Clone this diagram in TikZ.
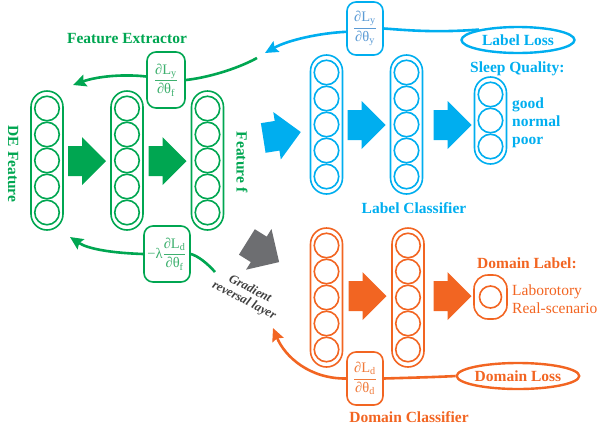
\documentclass[tikz,border=0pt]{standalone}
\usepackage{fontspec}
\setmainfont{Liberation Serif}
\usetikzlibrary{arrows.meta,shapes.geometric}
\definecolor{cgreen}{HTML}{00A651}
\definecolor{cblue}{HTML}{00AEEF}
\definecolor{corange}{HTML}{F26522}
\definecolor{cgray}{HTML}{6D6E71}
\definecolor{tgray}{HTML}{404040}
\definecolor{dgreen}{HTML}{3DB06E}
\definecolor{dblue}{HTML}{5B9BD5}
\definecolor{dorange}{HTML}{F07A3A}
\newcommand\mycol[5]{%
  \pgfmathsetmacro\colh{26*#4+9}%
  \node[colbox=#5, minimum height=\colh pt] (#1) at (#2,{#3+\colh/2}) {};
  \foreach \k in {1,...,#4}{\node[neuron=#5] (#1-\k) at (#2,{#3+17.5+26*(\k-1)}) {};}%
}
\newcommand\bigarrow[4]{%
  \fill[#4, shift={(#1,#2)}, rotate=#3] (-19,-15) -- (-5,-15) -- (-5,-24) -- (19,0) -- (-5,24) -- (-5,15) -- (-19,15) -- cycle;%
}
\newcommand\dtext[4]{\textcolor{#1}{\fontsize{14.5}{16}\selectfont #2$\displaystyle\frac{\hbox{#3}}{\hbox{#4}}$}}
\begin{document}
\begin{tikzpicture}[x=1pt,y=-1pt,
  colbox/.style={draw=#1, line width=1.6pt, rounded corners=16pt, minimum width=32pt, inner sep=0pt},
  neuron/.style={circle, draw=#1, line width=1.6pt, minimum size=24.5pt, inner sep=0pt},
  dbox/.style={draw=#1, line width=1.6pt, rounded corners=9pt, fill=white, inner sep=0pt, align=center},
  lbl/.style={text=#1, font=\fontsize{15.5}{18}\selectfont\bfseries, inner sep=0pt},
  plain/.style={text=#1, font=\fontsize{15.5}{18}\selectfont, inner sep=0pt},
  loss/.style={ellipse, draw=#1, line width=2.4pt, minimum width=113pt, minimum height=26pt, inner sep=0pt, text=#1, font=\fontsize{15.5}{18}\selectfont\bfseries},
  back/.style={draw=#1, line width=2.6pt, -{Stealth[length=13pt,width=12pt,inset=2pt]}},
]
\useasboundingbox (0,0) rectangle (597,429);

% feature extractor
\mycol{g1}{47}{91}{5}{cgreen}
\mycol{g2}{127}{91}{5}{cgreen}
\mycol{g3}{207.5}{91}{5}{cgreen}
\bigarrow{87}{161}{0}{cgreen}
\bigarrow{167.5}{161}{0}{cgreen}

% label classifier
\mycol{b1}{326.5}{55}{5}{cblue}
\mycol{b2}{406.5}{55}{5}{cblue}
\mycol{b3}{490.5}{77}{3}{cblue}
\bigarrow{282}{135}{9}{cblue}
\bigarrow{366.5}{125}{0}{cblue}
\bigarrow{452.5}{125}{0}{cblue}

% domain classifier
\mycol{o1}{326.5}{228}{5}{corange}
\mycol{o2}{408}{228}{5}{corange}
\node[colbox=corange, minimum height=44pt, minimum width=33pt, rounded corners=14pt] (o3) at (490.5,297) {};
\node[neuron=corange, minimum size=22pt] (o3-1) at (490.5,297) {};
\bigarrow{367.5}{296}{0}{corange}
\bigarrow{452.5}{296}{0}{corange}

% gradient reversal
\bigarrow{263}{252}{-32}{cgray}
\node[text=tgray, font=\fontsize{12.5}{13}\selectfont\bfseries\itshape, align=center, rotate=-27, inner sep=0pt] (grl) at (247,295) {Gradient\\reversal layer};

% labels
\node[lbl=cgreen, anchor=base] (fe) at (127,43) {Feature Extractor};
\node[lbl=cgreen, rotate=-90] (de) at (13,164) {DE Feature};
\node[lbl=cgreen, rotate=-90] (ff) at (242,162) {Feature f};
\node[lbl=cblue, anchor=base] (lc) at (414,213) {Label Classifier};
\node[lbl=cblue, anchor=base west] (sq) at (470,72) {Sleep Quality:};
\node[lbl=cblue, anchor=base west] (good) at (512,108) {good};
\node[lbl=cblue, anchor=base west] (normal) at (512,126) {normal};
\node[lbl=cblue, anchor=base west] (poor) at (512,144) {poor};
\node[lbl=corange, anchor=base west] (dl) at (477,268) {Domain Label:};
\node[plain=corange, anchor=base west] (lab) at (512,295) {Laborotory};
\node[plain=corange, anchor=base west] (rs) at (512,313) {Real-scenario};
\node[lbl=corange, anchor=base] (dc) at (409,422) {Domain Classifier};

% losses
\node[loss=cblue] (LL) at (518,40) {Label Loss};
\node[loss=corange] (DL) at (518,376) {Domain Loss};

% derivative boxes
\node[dbox=cgreen, minimum width=38pt, minimum height=56pt] (dGu) at (166,80) {\dtext{dgreen}{}{∂L\textsubscript{y}}{∂θ\textsubscript{f}}};
\node[dbox=cblue, minimum width=36pt, minimum height=53pt] (dB) at (365,28.5) {\dtext{dblue}{}{∂L\textsubscript{y}}{∂θ\textsubscript{y}}};
\node[dbox=corange, minimum width=36pt, minimum height=53pt] (dO) at (365,378.5) {\dtext{dorange}{}{∂L\textsubscript{d}}{∂θ\textsubscript{d}}};
\node[dbox=cgreen, minimum width=46pt, minimum height=56pt] (dGl) at (167,254) {\dtext{dgreen}{−λ}{∂L\textsubscript{d}}{∂θ\textsubscript{f}}};

% free ends
\coordinate (bt) at (265,53);
\coordinate (gs) at (257,58);
\coordinate (gt) at (73,85);
\coordinate (gs2) at (215,272);
\coordinate (gt2) at (70,237);
\coordinate (ot) at (273,328);

% backward connectors
\draw[draw=cblue, line width=2.6pt] (LL.165) .. controls (435,33) and (405,30) .. (dB.east);
\draw[back=cblue] (dB.190) .. controls (320,33) and (288,40) .. (bt);
\draw[draw=cgreen, line width=2.6pt] (gs) .. controls (235,70) and (205,78) .. (dGu.east);
\draw[back=cgreen] (dGu.170) .. controls (125,74) and (98,76) .. (gt);
\draw[draw=cgreen, line width=2.6pt] (gs2) .. controls (207,263) and (198,256) .. (dGl.east);
\draw[back=cgreen] (dGl.west) .. controls (112,253) and (88,249) .. (gt2);
\draw[draw=corange, line width=2.6pt] (DL.west) .. controls (440,377) and (400,378) .. (dO.east);
\draw[back=corange] (dO.west) .. controls (310,379) and (285,357) .. (ot);
\end{tikzpicture}
\end{document}
